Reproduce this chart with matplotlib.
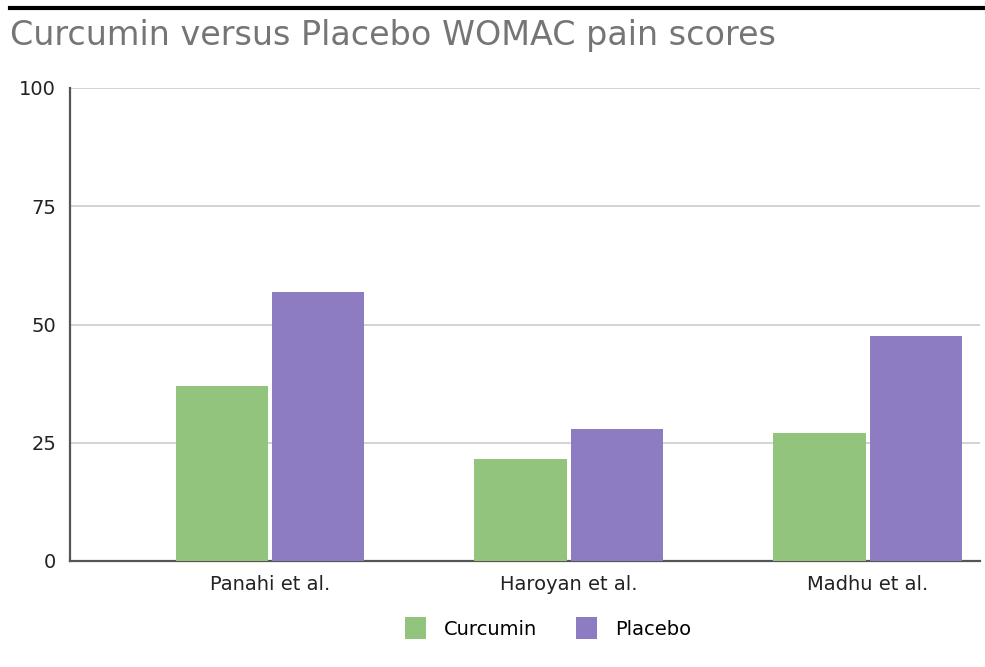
import matplotlib
matplotlib.use('Agg')
import matplotlib.pyplot as plt
import numpy as np

plt.rcParams['font.family'] = ['DejaVu Sans']

studies = ['Panahi et al.', 'Haroyan et al.', 'Madhu et al.']
curcumin = [37.0, 21.6, 27.1]
placebo = [56.8, 27.9, 47.6]
yticks = [0, 25, 50, 75, 100]

green = '#93c47d'
purple = '#8e7cc3'

fig = plt.figure(figsize=(9.85, 6.67), dpi=100)
ax = fig.add_axes([70 / 985, 1 - 561 / 667, 910 / 985, 473 / 667])

x = np.arange(len(studies))
w = 0.308
ax.bar(x - 0.162, curcumin, width=w, color=green, label='Curcumin', zorder=3)
ax.bar(x + 0.162, placebo, width=w, color=purple, label='Placebo', zorder=3)

ax.set_xlim(-0.669, 2.375)
ax.set_ylim(0, 100)
ax.set_yticks(yticks)
ax.set_xticks(x)
ax.set_xticklabels(studies)
ax.tick_params(axis='both', length=0, labelsize=14, colors='#222222')
ax.tick_params(axis='y', pad=10)
ax.tick_params(axis='x', pad=10)
ax.grid(axis='y', color='#cccccc', linewidth=1.2, zorder=0)

for s in ['top', 'right']:
    ax.spines[s].set_visible(False)
for s in ['left', 'bottom']:
    ax.spines[s].set_color('#555555')
    ax.spines[s].set_linewidth(1.6)

# heading rule and title
fig.add_artist(plt.Line2D([10 / 985, 1], [1 - 8 / 667, 1 - 8 / 667],
                          color='black', linewidth=3))
fig.text(10 / 985, 1 - 36 / 667, 'Curcumin versus Placebo WOMAC pain scores',
         fontsize=24, color='#757575', va='center', ha='left')

fig.legend(loc='center', bbox_to_anchor=(548 / 985, 1 - 628 / 667), ncol=2,
           frameon=False, fontsize=14, handlelength=1.1, handleheight=1.3,
           columnspacing=2.0, handletextpad=0.9)

fig.savefig('out.png', dpi=100, facecolor='white')
